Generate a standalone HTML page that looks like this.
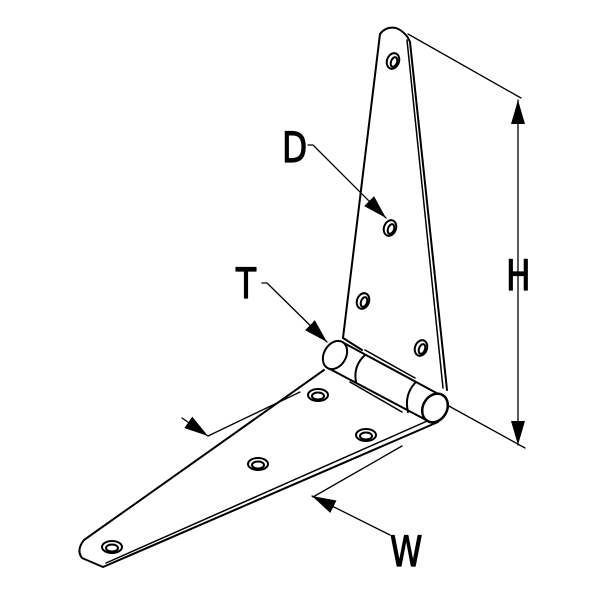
<!DOCTYPE html>
<html><head><style>body{margin:0;background:#fff}svg{display:block}</style></head><body>
<svg width="600" height="600" viewBox="0 0 600 600" xmlns="http://www.w3.org/2000/svg" fill="none" stroke="#000" stroke-linecap="round" stroke-linejoin="round">
<defs>
<marker id="b" viewBox="0 0 10 10" refX="10" refY="5" markerWidth="24" markerHeight="14" orient="auto-start-reverse" markerUnits="userSpaceOnUse" preserveAspectRatio="none"><path d="M0,0 L10,5 L0,10 z" fill="#000" stroke="none"/></marker>
</defs>
<!-- vertical leaf -->
<path d="M343,338 L380,34 Q386,26 396,28 Q406,32 410,42 L447,390" stroke-width="2"/>
<path d="M407,40 L443,388" stroke-width="1.5"/>
<path d="M343,338 L362,350" stroke-width="2"/>
<!-- bottom leaf -->
<path d="M324,370 L84,540 Q76,550 82,558 L103,567 L438,422" stroke-width="2"/>
<path d="M106,563 L434,418" stroke-width="1.5"/>
<!-- barrel -->
<path d="M342,342 L442,396 L428,421 L328,368 Z" stroke-width="2" fill="#fff"/>
<ellipse cx="335" cy="355" rx="11" ry="15" transform="rotate(30 335 355)" stroke-width="2" fill="#fff"/>
<path d="M365,355 Q353,366 356,382" stroke-width="2"/>
<path d="M415,383 Q404,395 408,412" stroke-width="2"/>
<path d="M350,382 L402,412" stroke-width="1.5"/>
<path d="M365,350 L415,378" stroke-width="1.5"/>
<ellipse cx="435" cy="408" rx="12" ry="15" transform="rotate(30 435 408)" stroke-width="2.5" fill="#fff"/>
<!-- holes -->
<g stroke-width="2">
<ellipse cx="393" cy="61" rx="6" ry="8" transform="rotate(20 393 61)"/><ellipse cx="394" cy="62" rx="3" ry="5" transform="rotate(20 394 62)"/>
<ellipse cx="390" cy="228" rx="6" ry="8" transform="rotate(20 390 228)"/><ellipse cx="391" cy="229" rx="3" ry="5" transform="rotate(20 391 229)"/>
<ellipse cx="363" cy="301" rx="6" ry="8" transform="rotate(20 363 301)"/><ellipse cx="364" cy="302" rx="3" ry="5" transform="rotate(20 364 302)"/>
<ellipse cx="421" cy="348" rx="6" ry="8" transform="rotate(20 421 348)"/><ellipse cx="422" cy="349" rx="3" ry="5" transform="rotate(20 422 349)"/>
<ellipse cx="318" cy="395" rx="10" ry="6"/><ellipse cx="318" cy="396" rx="6" ry="3.5"/>
<ellipse cx="366" cy="435" rx="10" ry="6"/><ellipse cx="366" cy="436" rx="6" ry="3.5"/>
<ellipse cx="258" cy="464" rx="10" ry="6"/><ellipse cx="258" cy="465" rx="6" ry="3.5"/>
<ellipse cx="112" cy="547" rx="10" ry="6"/><ellipse cx="112" cy="548" rx="6" ry="3.5"/>
</g>
<!-- dimensions -->
<g stroke-width="1.3">
<path d="M408,34 L521,98"/><path d="M447,405 L525,448"/>
<path d="M518,100 L518,445" marker-start="url(#b)" marker-end="url(#b)"/>
<path d="M208,436 L300,392"/><path d="M313,497 L402,446"/>
<path d="M182,418 L208,436" marker-end="url(#b)"/>
<path d="M390,535 L312,496" marker-end="url(#b)"/>
<path d="M308,145 L313,145 L386,218" marker-end="url(#b)"/>
<path d="M262,283 L267,283 L327,342" marker-end="url(#b)"/>
</g>
<g fill="#000" stroke="#000" stroke-width="1.2" font-family="'DejaVu Sans','Liberation Sans',sans-serif" font-size="42">
<text transform="translate(282,162) scale(0.78,1)">D</text>
<text transform="translate(236,298) scale(0.78,1)">T</text>
<text transform="translate(506,290) scale(0.78,1)">H</text>
<text transform="translate(390,566) scale(0.78,1)">W</text>
</g>
</svg>
</body></html>
